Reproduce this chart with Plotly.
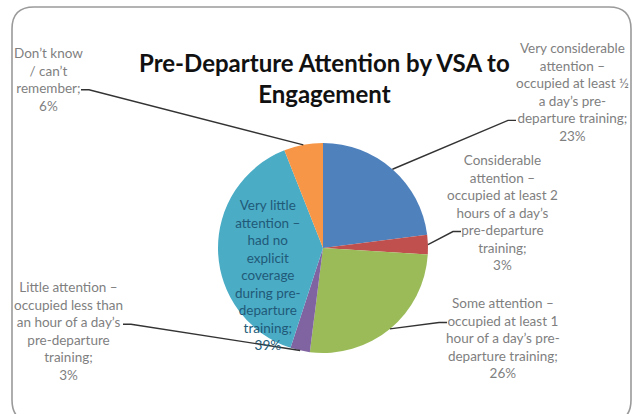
import math
import plotly.graph_objects as go

# ---------------- data ----------------
categories = [
    "Very considerable attention – occupied at least ½ a day’s pre-departure training",
    "Considerable attention – occupied at least 2 hours of a day’s pre-departure training",
    "Some attention – occupied at least 1 hour of a day’s pre-departure training",
    "Little attention – occupied less than an hour of a day’s pre-departure training",
    "Very little attention – had no explicit coverage during pre-departure training",
    "Don’t know / can’t remember",
]
values = [23, 3, 26, 3, 39, 6]
colors = ["#4F81BD", "#C0504D", "#9BBB59", "#8064A2", "#4BACC6", "#F79646"]
label_lines = [
    ["Very considerable", "attention –", "occupied at least ½", "a day’s pre-", "departure training;"],
    ["Considerable", "attention –", "occupied at least 2", "hours of a day’s", "pre-departure", "training;"],
    ["Some attention –", "occupied at least 1", "hour of a day’s pre-", "departure training;"],
    ["Little attention –", "occupied less than", "an hour of a day’s", "pre-departure", "training;"],
    ["Very little", "attention –", "had no", "explicit", "coverage", "during pre-", "departure", "training;"],
    ["Don’t know", "/ can’t", "remember;"],
]
title_text = "Pre-Departure Attention by VSA to<br>Engagement"

# ---------------- layout constants (pixels) ----------------
W, H = 637, 414
CX, CY, R = 323, 248, 105
FS = 13.5
LS = FS * 1.3
# label centre x, y, index of line carrying leader, leader side (+1 right, -1 left), x where leader starts
label_pos = [
    (572, 92, 4, -1, 516),
    (502, 212, 4, -1, 461),
    (503, 338, 1, -1, 447),
    (68, 331, 2, 1, 123),
    (268, 275, None, 0, 0),
    (48, 79, 2, 1, 81),
]

fig = go.Figure()
fig.add_trace(go.Pie(
    labels=categories, values=values, sort=False, direction="clockwise",
    rotation=0, textinfo="none", hoverinfo="label+percent",
    marker=dict(colors=colors, line=dict(width=0)),
    domain=dict(x=[(CX - R) / W, (CX + R) / W], y=[1 - (CY + R) / H, 1 - (CY - R) / H]),
    showlegend=False,
))
# invisible pixel-space axes for labels / leaders
fig.add_trace(go.Scatter(x=[0, W], y=[0, H], mode="markers", marker=dict(opacity=0),
                         hoverinfo="skip", showlegend=False))

total = sum(values)
cum = 0
annotations = []
shapes = []
for i, v in enumerate(values):
    mid = (cum + v / 2) / total
    cum += v
    th = 2 * math.pi * mid
    ex, ey = CX + R * math.sin(th), CY - R * math.cos(th)
    lx, ly, li, side, sx = label_pos[i]
    lines = label_lines[i] + [f"{v}%"]
    inside = i == 4
    annotations.append(dict(
        x=lx, y=ly, xref="x", yref="y", text="<br>".join(lines), showarrow=False,
        align="center", xanchor="center", yanchor="middle",
        font=dict(family="Lato", size=FS, color="#215a78" if inside else "#7f7f7f"),
    ))
    if li is not None:
        n = len(lines)
        yline = ly + (li - (n - 1) / 2) * LS + 2
        kx = sx + side * 8
        shapes.append(dict(type="path", xref="x", yref="y",
                           path=f"M{sx},{yline} L{kx},{yline} L{ex},{ey}",
                           line=dict(color="#333333", width=1.4)))

# rounded border
x0, y0, x1, y1, rr = 12, 7, 631, 422, 22
shapes.append(dict(type="path", xref="x", yref="y", layer="above",
                   path=(f"M{x0+rr},{y0} L{x1-rr},{y0} Q{x1},{y0} {x1},{y0+rr} "
                         f"L{x1},{y1-rr} Q{x1},{y1} {x1-rr},{y1} L{x0+rr},{y1} "
                         f"Q{x0},{y1} {x0},{y1-rr} L{x0},{y0+rr} Q{x0},{y0} {x0+rr},{y0} Z"),
                   line=dict(color="#9a9a9a", width=1.6)))

annotations.append(dict(
    x=324, y=78, xref="x", yref="y", text=f"<b>{title_text}</b>", showarrow=False,
    xanchor="center", yanchor="middle", align="center",
    font=dict(family="Lato", size=24, color="#111111"),
))

fig.update_layout(
    width=W, height=H, margin=dict(l=0, r=0, t=0, b=0),
    paper_bgcolor="white", plot_bgcolor="white",
    xaxis=dict(range=[0, W], visible=False, domain=[0, 1], fixedrange=True),
    yaxis=dict(range=[H, 0], visible=False, domain=[0, 1], fixedrange=True),
    annotations=annotations, shapes=shapes,
)
fig.write_html("out.html", config={"displayModeBar": False},
               post_script="document.body.style.margin='0';")
